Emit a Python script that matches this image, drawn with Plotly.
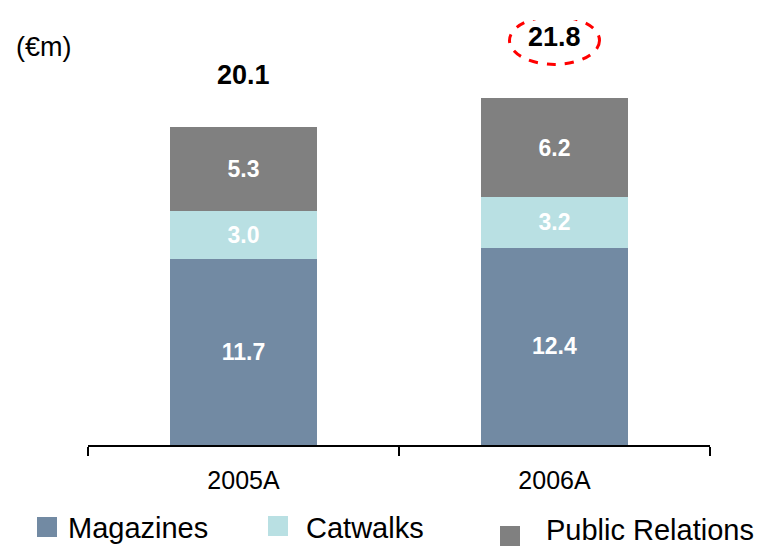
import plotly.graph_objects as go

categories = ["2005A", "2006A"]
magazines = [11.7, 12.4]
catwalks = [3.0, 3.2]
public_relations = [5.3, 6.2]
totals = [20.1, 21.8]
unit_label = "(€m)"
series_names = ["Magazines", "Catwalks", "Public Relations"]
series_colors = ["#728AA3", "#B9E0E3", "#808080"]

FONT = "Arial, Liberation Sans, sans-serif"

W, H = 775, 547
ML, MR, MT, MB = 88, 65, 20, 102
PW, PH = W - ML - MR, H - MT - MB


def px_x(px):
    return (px - ML) / PW


def px_y(py):
    return (H - MB - py) / PH


fig = go.Figure()
for name, vals, color in zip(series_names, [magazines, catwalks, public_relations], series_colors):
    fig.add_trace(go.Bar(
        x=categories, y=vals, name=name,
        marker=dict(color=color, line=dict(width=0)),
        texttemplate="<b>%{y:.1f}</b>", textposition="inside",
        insidetextanchor="middle",
        textfont=dict(family=FONT, size=23, color="white"),
        hoverinfo="skip", showlegend=False,
    ))

shifts = [50, 61]
for cat, tot, sh in zip(categories, totals, shifts):
    fig.add_annotation(x=cat, y=tot, text=f"<b>{tot:.1f}</b>", showarrow=False,
                       yshift=sh, font=dict(family=FONT, size=27, color="black"))

# dashed highlight ellipse around the 2006A total
fig.add_shape(type="circle", xref="x", yref="y",
              xsizemode="pixel", ysizemode="pixel",
              xanchor=categories[1], yanchor=totals[1],
              x0=-45, x1=45, y0=34, y1=82,
              line=dict(color="#FF0000", width=3, dash="dash"))

fig.add_annotation(xref="paper", yref="paper", x=px_x(44), y=px_y(47), xanchor="center",
                   yanchor="middle", text=unit_label, showarrow=False,
                   font=dict(family=FONT, size=27, color="black"))

# legend (square swatches + labels) placed below the axis
legend_sq_left = [37, 268, 500]
legend_sq_top = [517, 516, 526]
legend_txt_left = [66, 304, 544]
legend_txt_mid = [528, 528, 530]
for name, color, sx, sy, tx, ty in zip(series_names, series_colors, legend_sq_left,
                                        legend_sq_top, legend_txt_left, legend_txt_mid):
    fig.add_shape(type="rect", xref="paper", yref="paper",
                  x0=px_x(sx), x1=px_x(sx + 20), y0=px_y(sy + 20), y1=px_y(sy),
                  fillcolor=color, line=dict(width=0))
    fig.add_annotation(xref="paper", yref="paper", x=px_x(tx), y=px_y(ty),
                       xanchor="left", yanchor="middle", text=name, showarrow=False,
                       font=dict(family=FONT, size=29, color="black"))

fig.update_layout(
    barmode="stack", bargap=0.53,
    width=W, height=H,
    margin=dict(l=ML, r=MR, t=MT, b=MB),
    plot_bgcolor="white", paper_bgcolor="white",
    font=dict(family=FONT, color="black"),
    showlegend=False,
    xaxis=dict(range=[-0.5, 1.5], showline=True, linecolor="black", linewidth=1.5,
               ticks="outside", tickson="boundaries", ticklen=9, tickwidth=1.5,
               tickcolor="black", showgrid=False, ticklabelstandoff=12,
               tickfont=dict(family=FONT, size=25, color="black")),
    yaxis=dict(range=[0, 26.73], visible=False, showgrid=False, zeroline=False),
)

fig.write_html("out.html")
